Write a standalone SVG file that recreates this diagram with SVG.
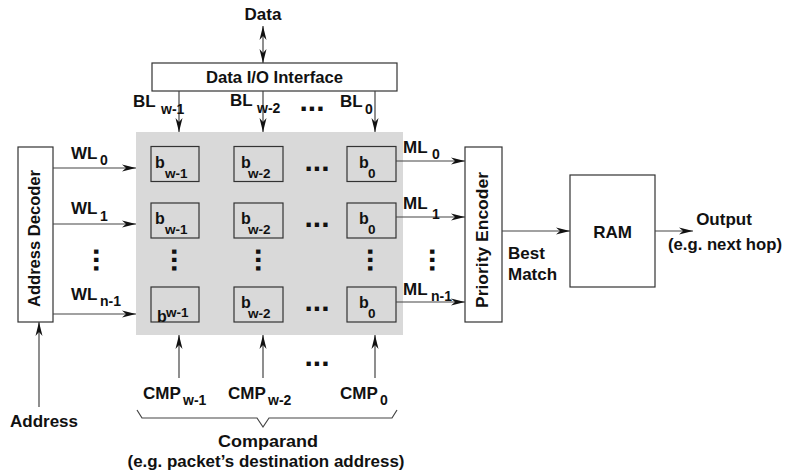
<svg xmlns="http://www.w3.org/2000/svg" width="787" height="476" viewBox="0 0 787 476">
<defs>
<marker id="ah" viewBox="0 0 14 8" refX="14" refY="4" markerWidth="14" markerHeight="8" markerUnits="userSpaceOnUse" orient="auto-start-reverse">
<path d="M0,0.5 L14,4 L0,7.5 L4,4 z" fill="#111"/>
</marker>
</defs>
<style>
text{font-family:"Liberation Sans",Arial,sans-serif;font-weight:bold;fill:#111}
.t{font-size:17px}
.s{font-size:14px}
.b{font-size:16px}
.cs{font-size:13.5px}
.m{text-anchor:middle}
.dots{font-size:30px}
.box{fill:#fff;stroke:#333;stroke-width:1.2}
.cell{fill:#d9d9d9;stroke:#333;stroke-width:1.2}
.ln{fill:none;stroke:#444;stroke-width:1.2}
.arr{fill:none;stroke:#444;stroke-width:1.2;marker-end:url(#ah)}
</style>
<rect width="787" height="476" fill="#fff"/>

<g id="array">
<rect x="136" y="132" width="267" height="203" fill="#d9d9d9"/>
</g>

<g id="cells">
<g id="c00"><rect class="cell" x="151" y="146.5" width="48" height="35"/><text class="b" x="155" y="167.5">b</text><text class="cs" x="165" y="177.5">w-1</text></g>
<g id="c01"><rect class="cell" x="234" y="146.5" width="49" height="35"/><text class="b" x="241" y="167.5">b</text><text class="cs" x="248" y="177.5">w-2</text></g>
<g id="c02"><rect class="cell" x="347" y="146.5" width="49" height="35"/><text class="b" x="359" y="167.5">b</text><text class="cs" x="368" y="177.5">0</text></g>
<g id="c10"><rect class="cell" x="151" y="203" width="48" height="35"/><text class="b" x="155" y="224">b</text><text class="cs" x="165" y="234">w-1</text></g>
<g id="c11"><rect class="cell" x="234" y="203" width="49" height="35"/><text class="b" x="241" y="224">b</text><text class="cs" x="248" y="234">w-2</text></g>
<g id="c12"><rect class="cell" x="347" y="203" width="49" height="35"/><text class="b" x="359" y="224">b</text><text class="cs" x="368" y="234">0</text></g>
<g id="c20"><rect class="cell" x="151" y="287" width="48" height="35"/><text class="b" x="157" y="322">b</text><text class="cs" x="166" y="317">w-1</text></g>
<g id="c21"><rect class="cell" x="234" y="287" width="49" height="35"/><text class="b" x="241" y="308">b</text><text class="cs" x="248" y="318">w-2</text></g>
<g id="c22"><rect class="cell" x="347" y="287" width="49" height="35"/><text class="b" x="359" y="308">b</text><text class="cs" x="368" y="318">0</text></g>
</g>

<g id="dots">
<text class="dots m" x="317" y="171">...</text>
<text class="dots m" x="317" y="227">...</text>
<text class="dots m" x="317" y="311">...</text>
<text class="dots m" x="312" y="111">...</text>
<text class="dots m" x="317" y="366">...</text>
<text class="dots m" transform="translate(172,260) rotate(90)">...</text>
<text class="dots m" transform="translate(256,260) rotate(90)">...</text>
<text class="dots m" transform="translate(368,260) rotate(90)">...</text>
<text class="dots m" transform="translate(94,260) rotate(90)">...</text>
<text class="dots m" transform="translate(430,260) rotate(90)">...</text>
</g>

<g id="dataio">
<rect class="box" x="152" y="63" width="245" height="28"/>
<text class="t m" x="274.5" y="83" textLength="137" lengthAdjust="spacingAndGlyphs">Data I/O Interface</text>
</g>

<g id="decoder">
<rect class="box" x="18" y="147" width="35" height="175"/>
<text class="t m" transform="translate(40,238.5) rotate(-90)" textLength="137" lengthAdjust="spacingAndGlyphs">Address Decoder</text>
</g>

<g id="encoder">
<rect class="box" x="465" y="147" width="37" height="175"/>
<text class="t m" transform="translate(488,240) rotate(-90)" textLength="136" lengthAdjust="spacingAndGlyphs">Priority Encoder</text>
</g>

<g id="ram">
<rect class="box" x="570" y="175" width="85" height="112"/>
<text class="t m" x="612.5" y="238">RAM</text>
</g>

<g id="connectors">
<path class="arr" d="M263,44 L263,63"/>
<path class="arr" d="M263,44 L263,26"/>
<path class="arr" d="M179,91 L179,132"/>
<path class="arr" d="M263,91 L263,132"/>
<path class="arr" d="M375,91 L375,132"/>
<path class="arr" d="M53,168 L136,168"/>
<path class="arr" d="M53,224 L136,224"/>
<path class="arr" d="M53,314 L136,314"/>
<path class="arr" d="M396,161 L465,161"/>
<path class="arr" d="M396,217 L465,217"/>
<path class="arr" d="M396,302 L465,302"/>
<path class="arr" d="M502,231 L570,231"/>
<path class="arr" d="M655,231 L693,231"/>
<path class="arr" d="M39,407 L39,322"/>
<path class="arr" d="M179,378 L179,335"/>
<path class="arr" d="M263,378 L263,335"/>
<path class="arr" d="M375,378 L375,335"/>
<path class="ln" stroke-width="1" d="M137,410 L142,418 L257,418 L263,427 L269,418 L392,418 L397,410"/>
</g>

<g id="labels">
<text class="t m" x="263" y="20">Data</text>
<text class="t" x="133" y="107">BL</text><text class="s" x="161" y="114">w-1</text>
<text class="t" x="230" y="106">BL</text><text class="s" x="257" y="113">w-2</text>
<text class="t" x="340" y="107">BL</text><text class="s" x="365" y="114">0</text>
<text class="t" x="71" y="159">WL</text><text class="s" x="100" y="165">0</text>
<text class="t" x="71" y="214">WL</text><text class="s" x="100" y="221">1</text>
<text class="t" x="71" y="300">WL</text><text class="s" x="100" y="306">n-1</text>
<text class="t" x="403" y="153">ML</text><text class="s" x="432" y="159">0</text>
<text class="t" x="403" y="209">ML</text><text class="s" x="432" y="219">1</text>
<text class="t" x="403" y="295">ML</text><text class="s" x="431" y="301">n-1</text>
<text class="t" x="508" y="259">Best</text>
<text class="t" x="508" y="280">Match</text>
<text class="t m" x="724" y="225">Output</text>
<text class="t m" x="725" y="250" textLength="114" lengthAdjust="spacingAndGlyphs">(e.g. next hop)</text>
<text class="t m" x="44" y="427">Address</text>
<text class="t" x="143" y="399">CMP</text><text class="s" x="183" y="405">w-1</text>
<text class="t" x="228" y="399">CMP</text><text class="s" x="268" y="405">w-2</text>
<text class="t" x="340" y="399">CMP</text><text class="s" x="380" y="405">0</text>
<text class="t m" x="268" y="447" textLength="100" lengthAdjust="spacingAndGlyphs">Comparand</text>
<text class="t m" x="266" y="467" textLength="277" lengthAdjust="spacingAndGlyphs">(e.g. packet’s destination address)</text>
</g>
</svg>
